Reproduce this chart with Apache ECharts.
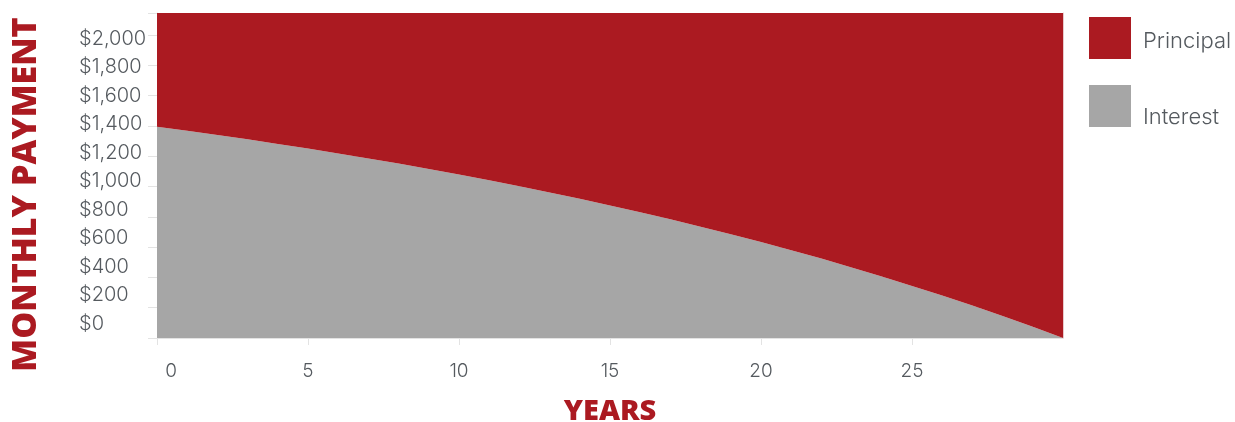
<!DOCTYPE html>
<html><head><meta charset="utf-8">
<script src="https://cdn.jsdelivr.net/npm/echarts@6/dist/echarts.min.js"></script>
<style>html,body{margin:0;padding:0;background:#fff}#c{width:1235px;height:422px}</style>
</head><body><div id="c"></div>
<script>
const years = [0,1,2,3,4,5,6,7,8,9,10,11,12,13,14,15,16,17,18,19,20,21,22,23,24,25,26,27,28,29,30];
const interest = [1395,1368,1340,1311,1281,1250,1218,1185,1151,1115,1079,1041,1002,961,919,875,830,783,735,685,633,579,524,466,406,344,280,214,146,74,0];
const principal = [750,777,805,834,864,895,927,960,994,1030,1066,1104,1143,1184,1226,1270,1315,1362,1410,1460,1512,1566,1621,1679,1739,1801,1865,1931,1999,2071,2145];
const yTickValues = [0,200,400,600,800,1000,1200,1400,1600,1800,2000,2145];
const yLabelValues = [0,200,400,600,800,1000,1200,1400,1600,1800,2000];
const seriesNames = ['Principal','Interest'];

const RED = '#ab1a21', GREY = '#a6a6a6', TXT = '#555a5f', AX = '#e3e3e3';
const labelFont = 'Inter, "Open Sans", sans-serif';
const titleFont = '"Open Sans", sans-serif';

const chart = echarts.init(document.getElementById('c'), null, {renderer:'canvas'});
chart.setOption({
  animation:false,
  backgroundColor:'#fff',
  grid:{left:157, right:172, top:13, bottom:84, containLabel:false, outerBoundsMode:'none'},
  legend:{
    orient:'vertical', left:1089, top:17, padding:0, itemWidth:42, itemHeight:42, itemGap:26,
    icon:'rect', data:seriesNames,
    formatter: n => n === 'Principal' ? '{p|' + n + '}' : '{i|' + n + '}',
    textStyle:{
      rich:{
        p:{fontFamily:labelFont, fontWeight:300, fontSize:22, color:TXT, padding:[7,0,0,7]},
        i:{fontFamily:labelFont, fontWeight:300, fontSize:22, color:TXT, padding:[23,0,0,7]}
      }
    }
  },
  xAxis:{
    type:'category', data:years.map(String), boundaryGap:false,
    axisLine:{show:true, lineStyle:{color:AX, width:1}},
    axisTick:{show:true, length:7, interval:4, lineStyle:{color:AX}},
    splitLine:{show:false},
    axisLabel:{
      interval:4, showMaxLabel:false, margin:24, color:TXT, fontFamily:labelFont, fontWeight:300, fontSize:19,
      formatter: v => v === '0' ? '{z|0}' : (v === '30' ? '' : v),
      rich:{z:{fontFamily:labelFont, fontWeight:300, fontSize:19, color:TXT, padding:[0,0,0,28]}}
    },
    name:'YEARS', nameLocation:'middle', nameGap:59,
    nameTextStyle:{color:RED, fontFamily:titleFont, fontWeight:800, fontSize:29}
  },
  yAxis:[{
    type:'value', min:0, max:2145, position:'left',
    axisLine:{show:true, lineStyle:{color:AX, width:1}},
    axisTick:{show:true, length:9, customValues:yTickValues, lineStyle:{color:AX}},
    axisLabel:{show:false},
    splitLine:{show:true, lineStyle:{color:AX, width:1}},
    name:'MONTHLY PAYMENT', nameLocation:'middle', nameGap:114,
    nameTextStyle:{color:RED, fontFamily:titleFont, fontWeight:800, fontSize:34, padding:[0,38,0,0]}
  },{
    type:'value', min:-101.9, max:2182.8, position:'left', offset:0,
    axisLine:{show:false}, axisTick:{show:false}, splitLine:{show:false},
    axisLabel:{
      customValues:yLabelValues, align:'left', margin:78, color:TXT,
      fontFamily:labelFont, fontWeight:300, fontSize:20,
      formatter: v => '$' + Number(v).toLocaleString('en-US')
    }
  },{
    type:'value', min:0, max:2145, position:'right',
    axisLine:{show:true, lineStyle:{color:'#e8c9cb', width:1}},
    axisTick:{show:false}, axisLabel:{show:false}, splitLine:{show:false}
  }],
  series:[{
    name:'Interest', type:'line', stack:'pay', yAxisIndex:0,
    data: interest,
    showSymbol:false, symbol:'none', lineStyle:{width:0}, areaStyle:{color:GREY, opacity:1},
    itemStyle:{color:GREY}, z:2
  },{
    name:'Principal', type:'line', stack:'pay', yAxisIndex:0,
    data: principal,
    showSymbol:false, symbol:'none', lineStyle:{width:0}, areaStyle:{color:RED, opacity:1},
    itemStyle:{color:RED}, z:2
  }]
});
</script></body></html>
